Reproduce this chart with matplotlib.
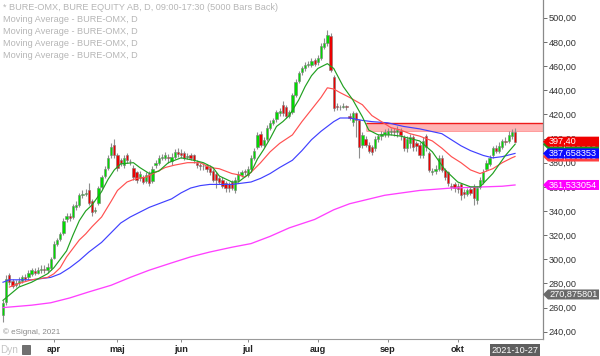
import matplotlib
matplotlib.use("Agg")
import matplotlib.pyplot as plt
import matplotlib.transforms as mtransforms
from matplotlib.patches import Polygon, Rectangle
import numpy as np
import pandas as pd

plt.rcParams['font.family'] = ['Liberation Sans', 'DejaVu Sans']

# ---------------- data ----------------
holidays = ['2021-04-02', '2021-04-05', '2021-05-13', '2021-06-25']
month_labels = ['apr', 'maj', 'jun', 'jul', 'aug', 'sep', 'okt']
last_date_label = '2021-10-27'

open_ = [254, 265, 287, 282, 279, 280, 282, 285, 285, 288,
         290, 289, 291, 292, 291, 293, 301, 313, 317, 322,
         333, 336, 335, 343, 345, 353, 354, 357, 348, 340,
         347, 360, 369, 376, 386, 395, 386, 382, 378, 386,
         381, 376, 372, 367, 368, 365, 371, 365, 378, 380,
         384, 384, 385, 381, 385, 389, 388, 388, 385, 386,
         386, 380, 378, 377, 377, 376, 373, 371, 367, 366,
         363, 362, 364, 357, 366, 370, 373, 370, 375, 384,
         393, 404, 395, 400, 409, 413, 416, 421, 428, 426,
         419, 422, 436, 448, 455, 458, 461, 461, 465, 463,
         467, 476, 479, 485, 451, 427, 426, 426, 427, 419,
         414, 421, 415, 395, 400, 395, 393, 392, 400, 402,
         404, 404, 405, 406, 405, 406, 401, 392, 396, 401,
         396, 395, 386, 402, 388, 372, 373, 375, 384, 374,
         372, 361, 362, 361, 362, 356, 354, 358, 360, 349,
         360, 364, 375, 379, 386, 392, 390, 393, 398, 398,
         402, 405]
high = [266, 287, 289, 284, 283, 285, 287, 288, 291, 293,
        293, 294, 295, 295, 297, 302, 315, 318, 323, 334,
        338, 338, 346, 348, 355, 357, 358, 363, 350, 343,
        361, 370, 377, 386, 396, 400, 388, 384, 386, 388,
        383, 378, 373, 373, 370, 372, 373, 377, 382, 386,
        387, 389, 387, 388, 391, 392, 391, 390, 388, 388,
        387, 382, 380, 380, 379, 378, 375, 372, 369, 368,
        365, 364, 366, 368, 373, 374, 375, 377, 386, 392,
        405, 406, 401, 411, 415, 417, 424, 425, 431, 428,
        424, 438, 449, 456, 460, 463, 464, 467, 467, 469,
        479, 483, 490, 487, 453, 429, 428, 429, 428, 421,
        423, 422, 416, 405, 402, 397, 395, 402, 404, 406,
        408, 409, 409, 409, 410, 409, 403, 402, 404, 403,
        398, 397, 401, 404, 390, 376, 378, 386, 386, 376,
        373, 363, 364, 363, 363, 358, 359, 360, 362, 361,
        368, 375, 382, 386, 394, 395, 397, 400, 401, 406,
        408, 409]
low = [248, 262, 279, 276, 277, 278, 280, 282, 283, 286,
       287, 288, 289, 289, 289, 291, 300, 311, 315, 320,
       331, 332, 333, 341, 343, 351, 352, 345, 336, 338,
       345, 358, 367, 374, 384, 384, 373, 377, 376, 380,
       378, 366, 363, 365, 362, 363, 361, 363, 376, 378,
       382, 382, 380, 378, 383, 385, 384, 382, 383, 382,
       380, 376, 374, 374, 372, 370, 364, 359, 362, 359,
       356, 356, 357, 355, 364, 368, 370, 368, 373, 382,
       391, 393, 393, 398, 407, 411, 414, 419, 419, 417,
       417, 420, 434, 446, 453, 456, 459, 459, 460, 461,
       465, 474, 477, 455, 423, 424, 424, 425, 424, 415,
       410, 401, 384, 392, 393, 388, 386, 390, 397, 399,
       401, 401, 403, 402, 401, 399, 390, 389, 392, 390,
       390, 384, 384, 390, 372, 370, 371, 373, 372, 366,
       361, 357, 356, 355, 349, 351, 352, 353, 345, 346,
       358, 362, 373, 377, 384, 388, 388, 391, 395, 396,
       400, 396]
close = [264, 284, 281, 278, 280, 282, 285, 284, 289, 291,
         289, 291, 292, 291, 294, 300, 313, 316, 321, 332,
         336, 334, 344, 345, 353, 354, 355, 347, 339, 341,
         359, 368, 375, 384, 393, 386, 376, 380, 384, 382,
         381, 368, 366, 371, 364, 370, 363, 375, 380, 384,
         385, 386, 384, 385, 389, 387, 386, 384, 385, 384,
         382, 378, 377, 377, 375, 372, 366, 366, 364, 361,
         359, 359, 359, 366, 371, 372, 372, 375, 384, 390,
         403, 395, 399, 409, 413, 415, 422, 423, 421, 419,
         422, 436, 447, 454, 458, 461, 461.5, 464, 462, 467,
         477, 479, 486, 457, 425, 426, 426.5, 427, 426, 417,
         421, 415, 393, 403, 395, 390, 389, 400, 402, 404,
         405, 406, 406, 405, 407, 403, 392, 400, 401, 393,
         394, 386, 398, 393, 374, 373, 375, 384, 374, 368,
         363, 360, 359, 358, 353, 354, 357, 355, 351, 359,
         366, 372, 380, 384, 392, 390, 394, 398, 397, 403,
         405, 397.4]

# moving averages (bar index, value)
ma_green_idx = [0, 5, 9, 14, 16, 18, 20, 22, 24, 26, 28, 31, 33, 35, 37, 41, 43, 46, 49, 52,
                56, 60, 63, 66, 68, 72, 74, 76, 78, 80, 82, 84, 86, 88, 90, 93, 95, 97, 99, 102,
                104, 107, 110, 113, 115, 118, 122, 125, 131, 135, 139, 143, 147, 150, 154, 158, 161]
ma_green_val = [266, 277, 281, 288, 293, 300, 307, 320, 332, 340, 345, 356, 366, 374, 379, 380, 376, 371, 373, 380,
                384, 382, 380, 376, 369, 364, 364, 368, 372, 383, 391, 400, 410, 414, 419, 432, 443, 452, 458, 462,
                458, 443, 432, 418, 407, 403, 403, 402, 398, 389, 374, 364, 360, 360, 371, 386, 395.2]
ma_red_idx = [2, 5, 9, 14, 16, 18, 20, 22, 24, 26, 28, 31, 34, 36, 39, 42, 45, 48, 51, 54,
              58, 62, 65, 68, 72, 74, 76, 78, 81, 84, 87, 91, 94, 97, 100, 102, 104, 106, 109, 113,
              116, 119, 122, 125, 128, 131, 135, 138, 141, 144, 147, 150, 154, 157, 160, 161]
ma_red_val = [277, 280, 283, 285, 288, 293, 302, 309, 316, 321, 327, 335, 348, 357, 364, 367, 368, 372, 376, 378,
              380, 380, 376, 375, 371, 370, 368, 372, 380, 389, 396, 403, 414, 424, 434, 442, 441, 438, 434, 428,
              419, 414, 409, 407, 404, 402, 398, 392, 385, 380, 374, 371, 375, 380, 384, 385.1]
ma_blue_idx = [0, 2, 9, 15, 18, 21, 24, 27, 31, 34, 37, 40, 43, 46, 50, 53, 56, 59, 62, 65,
               68, 72, 75, 78, 81, 84, 87, 91, 94, 97, 100, 104, 106, 109, 113, 116, 121, 126, 131, 138,
               141, 144, 147, 151, 154, 157, 161]
ma_blue_val = [281, 283, 283, 285, 288, 293, 299, 306, 314, 322, 330, 335, 339, 343, 347, 350, 355, 359, 361, 362,
               362, 362, 363, 364, 367, 371, 376, 382, 390, 399, 406, 414, 417, 417, 415, 414, 413, 410, 408, 404,
               399, 394, 390, 386, 384, 385, 387.658353]
ma_magenta_idx = [0, 9, 15, 21, 27, 34, 40, 46, 53, 59, 65, 72, 78, 84, 90, 98, 104, 109, 120, 131, 141, 157, 161]
ma_magenta_val = [260, 262, 264, 268, 273, 278.5, 285, 291, 297, 302, 306, 310, 313, 319, 326, 333, 341, 346,
                  353, 357, 359, 360.5, 361.533054]

extra_label_value = 270.875801
zone_start_idx = 114
zone_low, zone_high = 406.5, 413.0

legend_lines = ['* BURE-OMX, BURE EQUITY AB, D, 09:00-17:30 (5000 Bars Back)',
                'Moving Average - BURE-OMX, D',
                'Moving Average - BURE-OMX, D',
                'Moving Average - BURE-OMX, D',
                'Moving Average - BURE-OMX, D']

# ---------------- figure ----------------
W, H = 600, 356
fig = plt.figure(figsize=(W / 100, H / 100), dpi=100)
ax = fig.add_axes([0, 17 / H, 543 / W, 339 / H])
ax.set_facecolor('white')

dates = pd.bdate_range('2021-03-10', '2021-10-27')
dates = dates[~dates.isin(pd.to_datetime(holidays))]
n = len(close)
x = np.arange(n)
o = np.array(open_, float)
c = np.array(close, float)
hi = np.array(high, float)
lo = np.array(low, float)

month_idx = []
for i in range(1, len(dates)):
    if dates[i].month != dates[i - 1].month:
        month_idx.append(i)

XMAX = 169.8
# resistance zone
ax.fill_between([zone_start_idx, XMAX], zone_low, zone_high, color='#ffb4b4', lw=0, zorder=1)
ax.hlines(zone_high, zone_start_idx, XMAX, color='#ee1c1c', lw=1.0, zorder=1.5)
ax.hlines(zone_low, zone_start_idx, XMAX, color='#ff8a8a', lw=0.6, zorder=1.5)

# candles
ax.vlines(x, lo, hi, color='#8e8e8e', lw=0.8, zorder=3)
cols = np.where(c >= o, '#00dc00', '#ec0000')
bottoms = np.minimum(o, c)
heights = np.maximum(np.abs(c - o), 0.5)
ax.bar(x, heights, bottom=bottoms, width=0.72, color=cols, edgecolor='#7c7c7c',
       linewidth=0.4, zorder=4)

# moving averages
ax.plot(ma_magenta_idx, ma_magenta_val, color='#ff40ff', lw=0.95, zorder=5)
ax.plot(ma_blue_idx, ma_blue_val, color='#4040ff', lw=0.85, zorder=5)
ax.plot(ma_red_idx, ma_red_val, color='#ff5050', lw=0.85, zorder=5)
ax.plot(ma_green_idx, ma_green_val, color='#20a020', lw=0.85, zorder=5)

ax.set_xlim(-0.94, XMAX)
ax.set_ylim(234.0, 514.7)

# axes styling
for s in ['left', 'top']:
    ax.spines[s].set_visible(False)
ax.spines['right'].set_color('#8a8a8a')
ax.spines['bottom'].set_color('#9a9a9a')
ax.spines['right'].set_linewidth(0.9)
ax.spines['bottom'].set_linewidth(0.8)

ax.yaxis.tick_right()
yt = list(range(240, 501, 20))
ax.set_yticks(yt)
ax.set_yticklabels([f"{v:.2f}".replace('.', ',') for v in yt])
ax.tick_params(axis='y', length=3, width=0.6, color='#555555', labelsize=6.6,
               labelcolor='#333333', pad=1)
ax.set_xticks(month_idx)
ax.set_xticklabels(month_labels, fontweight='bold')
ax.tick_params(axis='x', length=2, width=0.6, color='#777777', labelsize=6.6,
               labelcolor='#222222', pad=2.5)

# right-side value tags
ytrans = ax.get_yaxis_transform()
hh = 5.0 * (514.7 - 234.0) / 339.0
tw = 56 / 543
ta = 5 / 543


def tag(y, text, color, z):
    poly = Polygon([(1.0, y), (1 + ta, y + hh), (1 + tw, y + hh), (1 + tw, y - hh), (1 + ta, y - hh)],
                   closed=True, transform=ytrans, facecolor=color, edgecolor='none',
                   clip_on=False, zorder=z)
    ax.add_patch(poly)
    ax.text(1 + ta + 0.002, y, text, transform=ytrans, color='white', fontsize=6.6,
            va='center', ha='left', zorder=z + 0.1, clip_on=False)


def fmt(v, d):
    return f"{v:.{d}f}".replace('.', ',')


tag(extra_label_value, fmt(extra_label_value, 6), '#6a6a6a', 10)
tag(ma_magenta_val[-1], fmt(ma_magenta_val[-1], 6), '#ff00ff', 10)
tag(ma_red_val[-1], fmt(ma_red_val[-1], 6), '#ff4040', 10.5)
tag(ma_green_val[-1], fmt(ma_green_val[-1], 6), '#1a9a1a', 11)
tag(ma_blue_val[-1], fmt(ma_blue_val[-1], 6), '#0a0aff', 11.5)
tag(close[-1], fmt(close[-1], 2), '#f00000', 12)

# date tag at last bar
btrans = mtransforms.blended_transform_factory(ax.transData, ax.transAxes)
ax.text(n - 1, -0.034, last_date_label, transform=btrans, ha='center', va='center',
        color='white', fontsize=6.6, clip_on=False, zorder=12,
        bbox=dict(boxstyle='square,pad=0.2', fc='#5e5e5e', ec='none'))

# header texts
for k, t in enumerate(legend_lines):
    fig.text(3 / W, 1 - (7 + 12 * k) / H, t, color='#b6b6b6', fontsize=6.6, va='center', ha='left')

fig.text(3 / W, 1 - 332 / H, '\u00a9 eSignal, 2021', color='#8a8a8a', fontsize=5.8, va='center', ha='left')
fig.text(0.5 / W, 1 - 350 / H, 'Dyn', color='#c4c4c4', fontsize=7.2, va='center', ha='left')
fig.patches.append(Rectangle((22 / W, 1 - 354 / H), 8 / W, 9 / H, transform=fig.transFigure,
                             facecolor='#707070', edgecolor='#505050', lw=0.5))

fig.savefig('out.png', dpi=100, facecolor='white')
